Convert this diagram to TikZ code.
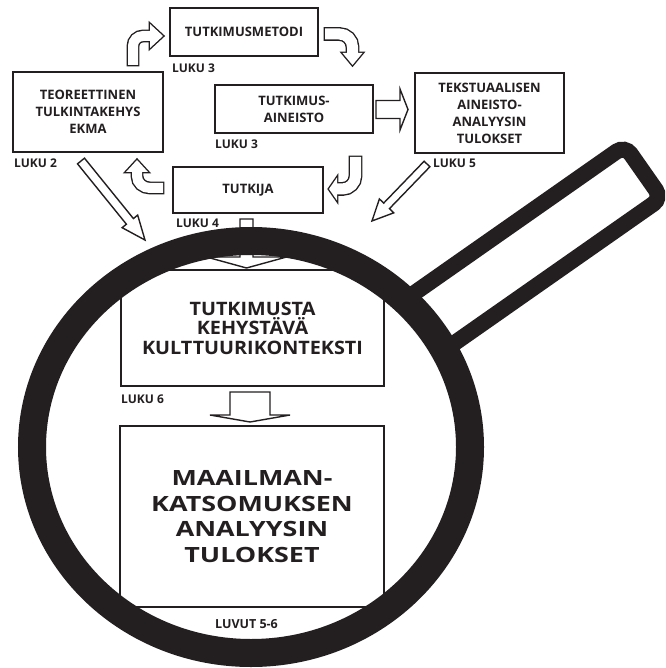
\documentclass[tikz,border=0pt]{standalone}
\usepackage{fontspec}
\setmainfont{Open Sans}
\newfontfamily\widefont{Open Sans}[FakeStretch=1.07]
\newfontfamily\bigfont{Open Sans}[FakeStretch=1.28]
\definecolor{ink}{HTML}{231F20}

% outline width of the hollow block arrows
\newcommand\arrowlw{1.4pt}

% hollow bent arrow: #1 shaft path (ends at the head base), #2 shaft width, #3 head triangle
\newcommand\bentarrow[3]{%
  \draw[ink, line width=#2+2*\arrowlw, shorten <=-\arrowlw] #1;
  \filldraw[ink, line width=2*\arrowlw, line join=miter] #3;
  \draw[white, line width=#2, shorten >=-\arrowlw] #1;
  \fill[white] #3;
}

% hollow straight arrow: #1 tail, #2 angle, #3 length, #4 half shaft, #5 half head, #6 head length
\newcommand\straightblock[6]{%
  \draw[arrowline, shift={#1}, rotate=#2]
    (0,-#4) -- ({#3-#6},-#4) -- ({#3-#6},-#5) -- (#3,0) -- ({#3-#6},#5) -- ({#3-#6},#4) -- (0,#4) -- cycle;
}

\begin{document}
\begin{tikzpicture}[x=1pt,y=-1pt,
  smallbox/.style={draw=ink, line width=2.4pt, fill=white, inner sep=0pt, align=center,
    text=ink, font=\bfseries\fontsize{13}{17}\selectfont},
  bigbox/.style={draw=ink, line width=1.8pt, fill=white, inner sep=0pt, align=center, text=ink},
  luku/.style={text=ink, inner sep=0pt, font=\bfseries\fontsize{12}{14}\selectfont},
  arrowline/.style={draw=ink, line width=\arrowlw, fill=white, line join=miter},
]
\useasboundingbox (0,0) rectangle (665,668);
\clip (0,0) rectangle (665,668);

% ---------- magnifying glass: handle, lens interior ----------
\begin{scope}[shift={(436,317)}, rotate=35]
  \draw[ink, line width=16pt, rounded corners=10pt, fill=white] (-80,-32) rectangle (253,32);
\end{scope}
\coordinate (lens) at (251,447);
\fill[white] (lens) ellipse [x radius=219pt, y radius=206pt];

% ---------- boxes inside the lens ----------
\node[bigbox, minimum width=263pt, minimum height=116pt,
      font=\widefont\bfseries\fontsize{18.5}{19.5}\selectfont] (kult) at (252.5,328)
  {TUTKIMUSTA\\KEHYSTÄVÄ\\KULTTUURIKONTEKSTI};
\node[bigbox, minimum width=264pt, minimum height=181pt,
      font=\bigfont\bfseries\fontsize{21}{25.5}\selectfont] (maail) at (252,516.5)
  {MAAILMAN-\\KATSOMUKSEN\\ANALYYSIN\\TULOKSET};
\node[luku, anchor=base west] (l6) at (121,403) {LUKU 6};
\node[luku, anchor=base, font=\bfseries\fontsize{12.5}{14}\selectfont] (l56) at (246.5,628) {LUVUT 5-6};

% arrows passing into the lens
\coordinate (hTail) at (246.5,219);
\coordinate (iTail) at (250,392);
\straightblock{(hTail)}{-90}{49}{6.5}{40}{11}
\straightblock{(iTail)}{-90}{30}{20}{40}{7}

% lens ring
\draw[ink, line width=28pt] (lens) ellipse [x radius=219pt, y radius=206pt];

% ---------- research cycle ----------
\node[smallbox, minimum width=148pt, minimum height=48pt] (metodi) at (244,32) {TUTKIMUSMETODI};
\node[smallbox, minimum width=150pt, minimum height=80pt] (teor) at (88,112)
  {TEOREETTINEN\\TULKINTAKEHYS\\EKMA};
\node[smallbox, minimum width=158pt, minimum height=48pt] (aineisto) at (294,109)
  {TUTKIMUS-\\AINEISTO};
\node[smallbox, minimum width=150pt, minimum height=46pt] (tutkija) at (248,190) {TUTKIJA};
\node[smallbox, minimum width=149pt, minimum height=80pt] (tekst) at (489.5,113)
  {TEKSTUAALISEN\\AINEISTO-\\ANALYYSIN\\TULOKSET};

\node[luku, anchor=base west] (l3a) at (172,73) {LUKU 3};
\node[luku, anchor=base west] (l2) at (14,168) {LUKU 2};
\node[luku, anchor=base west] (l3b) at (215,149) {LUKU 3};
\node[luku, anchor=base west] (l4) at (176,227) {LUKU 4};
\node[luku, anchor=base west] (l5) at (433,168) {LUKU 5};

% bent arrows around the cycle
\coordinate (aTail) at (133,65);
\coordinate (bTail) at (325,34);
\coordinate (dTail) at (355.5,157);
\coordinate (eTail) at (163,188);
\bentarrow{(aTail) -- (133,46) .. controls (133,40.5) and (137.5,36) .. (143,36) -- (150,36)}
  {10pt}{(150,24) -- (163,36) -- (150,48) -- cycle}
\bentarrow{(bTail) -- (339.5,34) .. controls (346.7,34) and (352.5,39.8) .. (352.5,47) -- (352.5,53)}
  {11pt}{(342.5,53) -- (352.5,65) -- (362.5,53) -- cycle}
\bentarrow{(dTail) -- (355.5,176) .. controls (355.5,183) and (349.7,189) .. (342.5,189) -- (337,189)}
  {11pt}{(337,177.5) -- (329,189) -- (337,200.5) -- cycle}
\bentarrow{(eTail) -- (150,188) .. controls (143,188) and (137,183) .. (137,176) -- (137,172)}
  {10pt}{(126,172) -- (137,160) -- (148,172) -- cycle}

% straight arrows
\coordinate (cTail) at (376,109.5);
\coordinate (fTail) at (81,161);
\coordinate (gTail) at (427,164);
\straightblock{(cTail)}{0}{32}{9}{20.5}{8}
\straightblock{(fTail)}{-51}{101.7}{4.5}{10}{24}
\straightblock{(gTail)}{-134}{79.2}{4}{10}{21}
\end{tikzpicture}
\end{document}
